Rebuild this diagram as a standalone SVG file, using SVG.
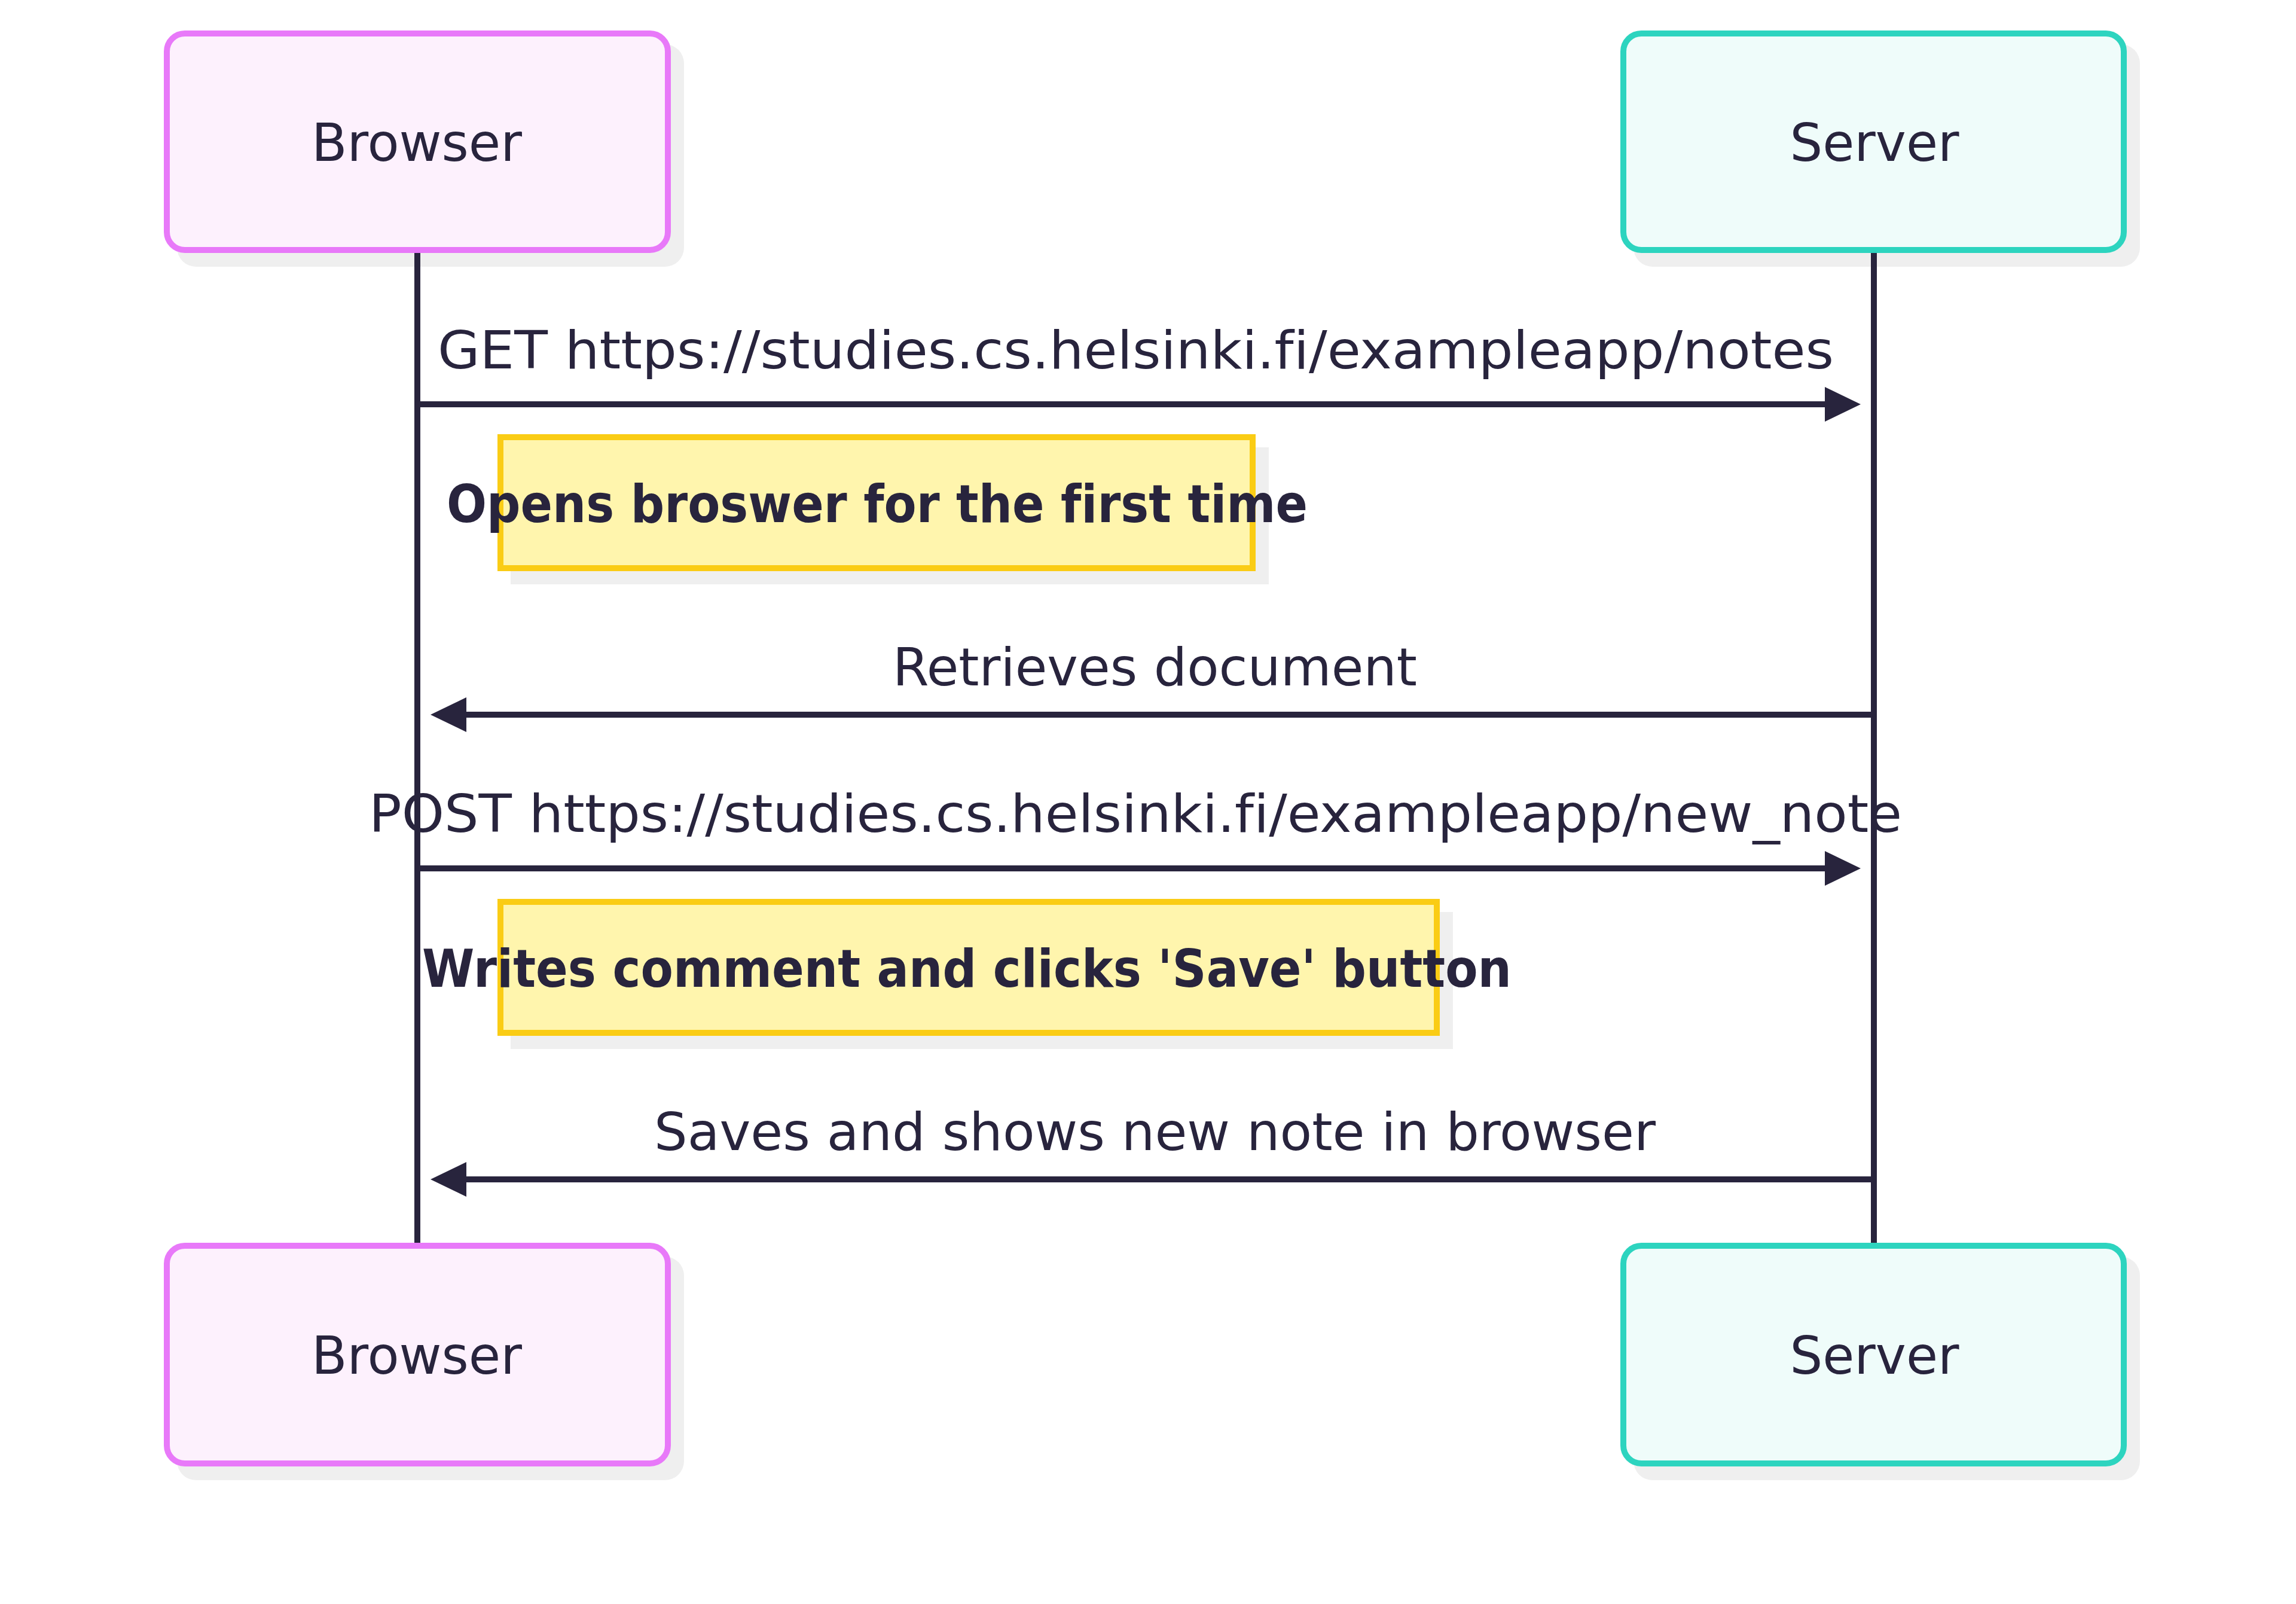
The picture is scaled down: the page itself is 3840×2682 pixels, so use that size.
<svg xmlns="http://www.w3.org/2000/svg" width="3840" height="2682" viewBox="0 0 3840 2682">
<style>
  .shadow { fill: #efefef; }
  .browser { fill: #fdf1fd; stroke: #e879f9; stroke-width: 10; }
  .server { fill: #effcfa; stroke: #2dd4bf; stroke-width: 10; }
  .note { fill: #fff5ad; stroke: #facc15; stroke-width: 10; }
  .lbl { font-family: "DejaVu Sans", "Liberation Sans", sans-serif; font-size: 88px; fill: #28243d; text-anchor: middle; font-variant-ligatures: none; font-feature-settings: "liga" 0; }
  .bold { font-weight: bold; }
  .life { stroke: #28243d; stroke-width: 10; fill: none; }
  .msg { stroke: #28243d; stroke-width: 10; fill: none; marker-end: url(#ah); }
</style>
<defs>
  <marker id="ah" markerUnits="userSpaceOnUse" markerWidth="60" markerHeight="58" refX="3" refY="29" orient="auto">
    <path d="M0,0 L60,29 L0,58 z" fill="#28243d"/>
  </marker>
</defs>
<rect width="3840" height="2682" fill="#ffffff"/>
<g id="browser-top">
  <rect class="shadow" x="296" y="74" width="848" height="372" rx="32"/>
  <rect class="browser" x="279" y="56" width="838" height="362" rx="30"/>
  <text class="lbl" x="697" y="269" textLength="352" lengthAdjust="spacingAndGlyphs">Browser</text>
</g>
<g id="server-top">
  <rect class="shadow" x="2732" y="74" width="847" height="372" rx="32"/>
  <rect class="server" x="2715" y="56" width="837" height="362" rx="30"/>
  <text class="lbl" x="3135" y="269" textLength="283" lengthAdjust="spacingAndGlyphs">Server</text>
</g>
<g id="note-1">
  <rect class="shadow" x="854" y="748" width="1268" height="229"/>
  <rect class="note" x="837" y="731" width="1258" height="219"/>
  <text class="lbl bold" x="1467" y="873" textLength="1440" lengthAdjust="spacingAndGlyphs">Opens broswer for the first time</text>
</g>
<g id="note-2">
  <rect class="shadow" x="854" y="1525" width="1576" height="229"/>
  <rect class="note" x="837" y="1508" width="1566" height="219"/>
  <text class="lbl bold" x="1617" y="1650" textLength="1822" lengthAdjust="spacingAndGlyphs">Writes comment and clicks 'Save' button</text>
</g>
<g id="browser-bottom">
  <rect class="shadow" x="296" y="2101" width="848" height="374" rx="32"/>
  <rect class="browser" x="279" y="2083" width="838" height="364" rx="30"/>
  <text class="lbl" x="697" y="2297" textLength="352" lengthAdjust="spacingAndGlyphs">Browser</text>
</g>
<g id="server-bottom">
  <rect class="shadow" x="2732" y="2101" width="847" height="374" rx="32"/>
  <rect class="server" x="2715" y="2083" width="837" height="364" rx="30"/>
  <text class="lbl" x="3135" y="2297" textLength="283" lengthAdjust="spacingAndGlyphs">Server</text>
</g>
<g id="connectors">
  <line class="life" x1="698" y1="423" x2="698" y2="2078"/>
  <line class="life" x1="3134" y1="423" x2="3134" y2="2078"/>
  <line class="msg" x1="698" y1="676" x2="3055" y2="676"/>
  <text class="lbl" x="1899.5" y="616" textLength="2335" lengthAdjust="spacingAndGlyphs">GET https://studies.cs.helsinki.fi/exampleapp/notes</text>
  <line class="msg" x1="3134" y1="1195" x2="777" y2="1195"/>
  <text class="lbl" x="1931.5" y="1146" textLength="877" lengthAdjust="spacingAndGlyphs">Retrieves document</text>
  <line class="msg" x1="698" y1="1452" x2="3055" y2="1452"/>
  <text class="lbl" x="1899" y="1391" textLength="2564" lengthAdjust="spacingAndGlyphs">POST https://studies.cs.helsinki.fi/exampleapp/new_note</text>
  <line class="msg" x1="3134" y1="1972" x2="777" y2="1972"/>
  <text class="lbl" x="1931.5" y="1923" textLength="1675" lengthAdjust="spacingAndGlyphs">Saves and shows new note in browser</text>
</g>
</svg>
